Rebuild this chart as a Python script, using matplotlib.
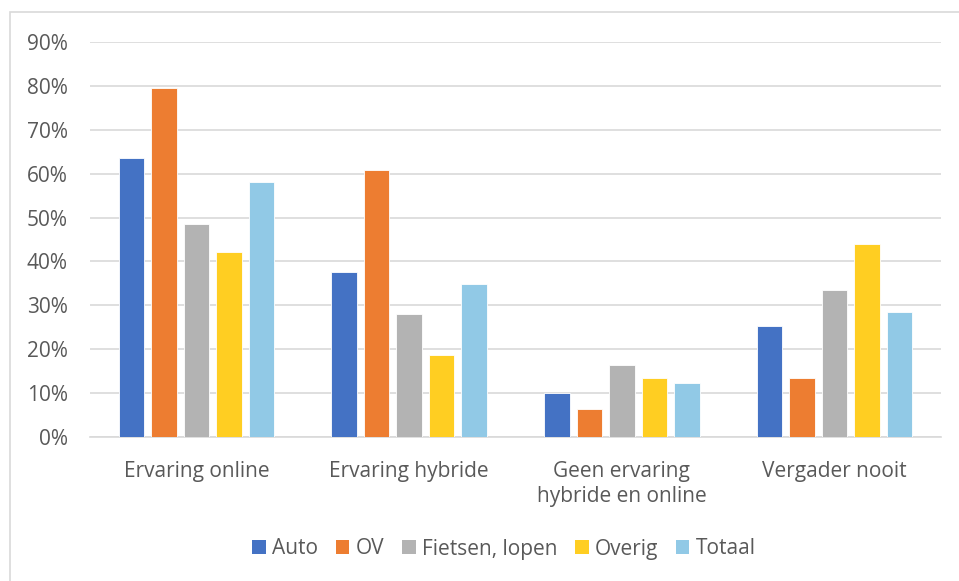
import matplotlib
matplotlib.use("Agg")
import matplotlib.pyplot as plt
from matplotlib.patches import Rectangle, Patch
import numpy as np

categories = ["Ervaring online", "Ervaring hybride", "Geen ervaring\nhybride en online", "Vergader nooit"]
series_names = ["Auto", "OV", "Fietsen, lopen", "Overig", "Totaal"]
auto = [63.6, 37.6, 10.0, 25.3]
ov = [79.5, 60.8, 6.4, 13.4]
fietsen = [48.5, 28.0, 16.4, 33.5]
overig = [42.1, 18.7, 13.4, 44.0]
totaal = [58.1, 34.9, 12.3, 28.5]
yticks = [0, 10, 20, 30, 40, 50, 60, 70, 80, 90]
ytick_labels = ["0%", "10%", "20%", "30%", "40%", "50%", "60%", "70%", "80%", "90%"]

colors = ["#4472C4", "#ED7D31", "#B3B3B3", "#FFCE22", "#91C9E6"]
text_color = "#595959"
plt.rcParams['font.family'] = ['Open Sans', 'DejaVu Sans']

W, H = 959, 581
fig = plt.figure(figsize=(W / 100, H / 100), dpi=100)
fig.patch.set_facecolor("white")

# outer chart border
fig.patches.append(Rectangle((10 / W, -0.05), 1.2, 1 - 12 / H + 0.05, transform=fig.transFigure,
                             fill=False, edgecolor="#D9D9D9", linewidth=1.2, zorder=0))

left, right = 90 / W, 941 / W
bottom, top = 1 - 437 / H, 1 - 42 / H
ax = fig.add_axes([left, bottom, right - left, top - bottom])

x = np.arange(len(categories))
pitch = 0.153
width = 0.12
all_series = [auto, ov, fietsen, overig, totaal]
for i, (vals, name, c) in enumerate(zip(all_series, series_names, colors)):
    ax.bar(x + (i - 2) * pitch, vals, width=width, color=c, edgecolor="white",
           linewidth=0.6, label=name, zorder=3)

fs = 15
ax.set_xlim(-0.5, len(categories) - 0.5)
ax.set_ylim(0, 90)
ax.set_yticks(yticks)
ax.set_yticklabels(ytick_labels, fontsize=fs, color=text_color)
ax.set_xticks(x)
ax.set_xticklabels(categories, fontsize=fs, color=text_color, linespacing=1.3)
ax.tick_params(axis="both", length=0)
ax.tick_params(axis="y", pad=16)
ax.tick_params(axis="x", pad=17)
ax.grid(axis="y", color="#D9D9D9", linewidth=1.2, zorder=0)
ax.set_axisbelow(True)
for s in ["top", "right", "left"]:
    ax.spines[s].set_visible(False)
ax.spines["bottom"].set_color("#D9D9D9")
ax.spines["bottom"].set_linewidth(1.2)

handles = [Patch(facecolor=c, edgecolor="none") for c in colors]
fig.legend(handles, series_names, loc="center", bbox_to_anchor=(504 / W, 1 - 549 / H),
           ncol=5, frameon=False, fontsize=fs, handlelength=0.65, handleheight=0.65,
           handletextpad=0.3, columnspacing=0.85, labelcolor=text_color)

fig.savefig("out.png", dpi=100)
